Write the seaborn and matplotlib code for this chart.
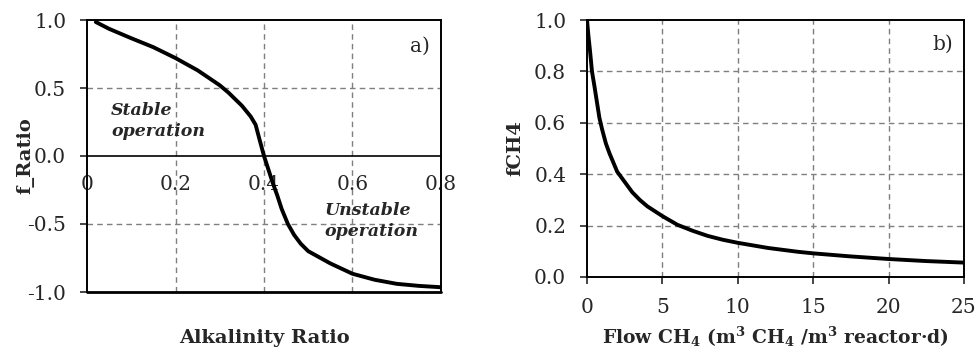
import matplotlib
matplotlib.use("Agg")
import matplotlib.pyplot as plt
import seaborn as sns
import pandas as pd

# ---- data ----
alk_ratio = [0.02, 0.05, 0.10, 0.15, 0.20, 0.25, 0.30, 0.32, 0.35, 0.37, 0.381, 0.39,
             0.40, 0.41, 0.42, 0.43, 0.44, 0.454, 0.468, 0.483, 0.50, 0.55, 0.60, 0.65,
             0.70, 0.75, 0.80]
f_ratio = [0.985, 0.935, 0.866, 0.80, 0.72, 0.63, 0.52, 0.465, 0.37, 0.29, 0.23, 0.12,
           0.0, -0.10, -0.20, -0.29, -0.39, -0.50, -0.58, -0.645, -0.70, -0.79, -0.866,
           -0.91, -0.94, -0.955, -0.965]

flow_ch4 = [0.0, 0.1, 0.2, 0.33, 0.5, 0.7, 0.82, 1.0, 1.25, 1.5, 2.0, 2.5, 3.0, 3.5,
            4.0, 5.0, 6.0, 7.0, 8.0, 9.0, 10.0, 12.0, 14.0, 15.0, 17.5, 20.0, 22.5, 25.0]
f_ch4 = [1.0, 0.935, 0.88, 0.80, 0.74, 0.665, 0.62, 0.575, 0.52, 0.48, 0.41, 0.37,
         0.33, 0.30, 0.275, 0.237, 0.203, 0.18, 0.16, 0.145, 0.133, 0.113, 0.098, 0.092,
         0.08, 0.07, 0.062, 0.056]

a_xticks = [0, 0.2, 0.4, 0.6, 0.8]
a_xticklabels = ["0", "0.2", "0.4", "0.6", "0.8"]
a_yticks = [-1.0, -0.5, 0.0, 0.5, 1.0]
b_xticks = [0, 5, 10, 15, 20, 25]
b_yticks = [0.0, 0.2, 0.4, 0.6, 0.8, 1.0]

sns.set_style("white")
plt.rcParams["font.family"] = ["DejaVu Serif"]
plt.rcParams["mathtext.fontset"] = "dejavuserif"
plt.rcParams["axes.unicode_minus"] = False

W, H = 979, 354
fig = plt.figure(figsize=(W / 100, H / 100), dpi=100)

def fr(x0, y0, x1, y1):
    return [x0 / W, 1 - y1 / H, (x1 - x0) / W, (y1 - y0) / H]

grid_kw = dict(color="#7f7f7f", linestyle=(0, (4, 3)), linewidth=1.0)
fs = 14.5
lfs = 14

# ---- panel a ----
ax1 = fig.add_axes(fr(87, 20, 441, 292))
dfa = pd.DataFrame({"x": alk_ratio, "y": f_ratio})
sns.lineplot(data=dfa, x="x", y="y", ax=ax1, color="black", linewidth=2.8)
ax1.set_xlim(0, 0.8)
ax1.set_ylim(-1.0, 1.0)
ax1.set_xticks(a_xticks)
ax1.set_xticklabels(a_xticklabels)
ax1.set_yticks(a_yticks)
ax1.set_yticklabels([f"{v:.1f}" for v in a_yticks])
for v in a_xticks[1:-1]:
    ax1.axvline(v, zorder=0, **grid_kw)
for v in [-0.5, 0.5]:
    ax1.axhline(v, zorder=0, **grid_kw)
for s in ["left", "right", "top"]:
    ax1.spines[s].set_color("black")
    ax1.spines[s].set_linewidth(1.4)
ax1.spines["bottom"].set_position(("data", 0))
ax1.spines["bottom"].set_color("black")
ax1.spines["bottom"].set_linewidth(1.2)
ax1.axhline(-1.0, color="black", linewidth=2.0, clip_on=False)
ax1.tick_params(axis="x", direction="inout", length=8, width=1.2, labelsize=fs, pad=10)
ax1.tick_params(axis="y", direction="out", length=5, width=1.2, labelsize=fs, left=True,
                pad=10)
ax1.set_xlabel("Alkalinity Ratio", fontweight="bold", fontsize=lfs, va="center")
ax1.xaxis.set_label_coords(0.5, -(338 - 292) / 272)
ax1.set_ylabel("f_Ratio", fontweight="bold", fontsize=lfs, va="center")
ax1.yaxis.set_label_coords(-(87 - 25) / 354, 0.5)
ax1.text(0.969, 0.905, "a)", transform=ax1.transAxes, ha="right", va="center", fontsize=fs)
ax1.text(0.068, 0.629, "Stable\noperation", transform=ax1.transAxes, ha="left", va="center",
         fontsize=12.5, fontweight="bold", fontstyle="italic", linespacing=1.3)
ax1.text(0.672, 0.261, "Unstable\noperation", transform=ax1.transAxes, ha="left", va="center",
         fontsize=12.5, fontweight="bold", fontstyle="italic", linespacing=1.3)

# ---- panel b ----
ax2 = fig.add_axes(fr(587, 20, 964, 277))
dfb = pd.DataFrame({"x": flow_ch4, "y": f_ch4})
sns.lineplot(data=dfb, x="x", y="y", ax=ax2, color="black", linewidth=2.8)
ax2.set_xlim(0, 25)
ax2.set_ylim(0, 1.0)
ax2.set_xticks(b_xticks)
ax2.set_xticklabels([str(v) for v in b_xticks])
ax2.set_yticks(b_yticks)
ax2.set_yticklabels([f"{v:.1f}" for v in b_yticks])
for v in b_xticks[1:-1]:
    ax2.axvline(v, zorder=0, **grid_kw)
for v in b_yticks[1:-1]:
    ax2.axhline(v, zorder=0, **grid_kw)
for s in ["left", "right", "top", "bottom"]:
    ax2.spines[s].set_color("black")
    ax2.spines[s].set_linewidth(1.4)
ax2.tick_params(axis="both", direction="out", length=5, width=1.2, labelsize=fs,
                left=True, bottom=True, pad=10)
ax2.set_xlabel(r"Flow CH$_\mathbf{4}$ (m$^\mathbf{3}$ CH$_\mathbf{4}$ /m$^\mathbf{3}$ reactor·d)",
               fontweight="bold", fontsize=13.5, va="center")
ax2.xaxis.set_label_coords(0.5, -(337 - 277) / 257)
ax2.set_ylabel("fCH4", fontweight="bold", fontsize=lfs, va="center")
ax2.yaxis.set_label_coords(-(587 - 515) / 377, 0.5)
ax2.text(0.97, 0.905, "b)", transform=ax2.transAxes, ha="right", va="center", fontsize=fs)

fig.savefig("out.png", dpi=100)
